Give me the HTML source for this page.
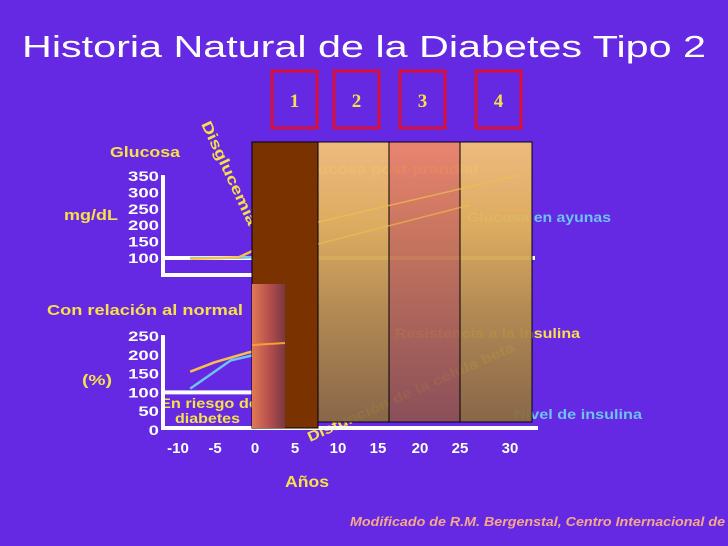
<!DOCTYPE html>
<html><head><meta charset="utf-8"><style>
html,body{margin:0;padding:0;background:#6529e4;}
svg{display:block;font-family:"Liberation Sans",sans-serif;}
</style></head><body>
<svg id="chart" width="728" height="546" viewBox="0 0 728 546">
<defs>
<linearGradient id="g2" x1="0" y1="0" x2="0" y2="1"><stop offset="0" stop-color="#f6c27a"/><stop offset="0.3" stop-color="#e3b45a"/><stop offset="0.6" stop-color="#b8904e"/><stop offset="1" stop-color="#8a6a42"/></linearGradient>
<linearGradient id="g3" x1="0" y1="0" x2="0" y2="1"><stop offset="0" stop-color="#f08a6a"/><stop offset="0.4" stop-color="#c67656"/><stop offset="1" stop-color="#8c5252"/></linearGradient>
<linearGradient id="gs" x1="0" y1="0" x2="1" y2="0"><stop offset="0" stop-color="#e07a50"/><stop offset="0.5" stop-color="#b85050"/><stop offset="1" stop-color="#7a3840"/></linearGradient>
</defs>
<rect width="728" height="546" fill="#6529e4"/>
<text x="22" y="57" fill="#fff" font-size="31" textLength="684" lengthAdjust="spacingAndGlyphs">Historia Natural de la Diabetes Tipo 2</text>

<g id="stageBoxes"></g>

<text x="110" y="157" fill="#f7e04a" font-size="15" font-weight="bold" textLength="70" lengthAdjust="spacingAndGlyphs">Glucosa</text>
<text x="64" y="220" fill="#f7e04a" font-size="15" font-weight="bold" textLength="54" lengthAdjust="spacingAndGlyphs">mg/dL</text>
<text x="0" y="0" fill="#f7e04a" font-size="15" font-weight="bold" textLength="113" lengthAdjust="spacingAndGlyphs" transform="translate(201,124) rotate(65)">Disglucemia</text>
<text x="47" y="315" fill="#f7e04a" font-size="15" font-weight="bold" textLength="196" lengthAdjust="spacingAndGlyphs">Con relación al normal</text>
<text x="82" y="385" fill="#f7e04a" font-size="15" font-weight="bold" textLength="30" lengthAdjust="spacingAndGlyphs">(%)</text>
<text x="160" y="408" fill="#f7e04a" font-size="14" font-weight="bold" textLength="98" lengthAdjust="spacingAndGlyphs">En riesgo de</text>
<text x="175" y="423" fill="#f7e04a" font-size="14" font-weight="bold" textLength="65" lengthAdjust="spacingAndGlyphs">diabetes</text>
<text x="467" y="222" fill="#6cc3f5" font-size="14" font-weight="bold" textLength="144" lengthAdjust="spacingAndGlyphs">Glucosa en ayunas</text>
<text x="395" y="338" fill="#f7e04a" font-size="14" font-weight="bold" textLength="185" lengthAdjust="spacingAndGlyphs">Resistencia a la insulina</text>
<text x="514" y="419" fill="#6cc3f5" font-size="14" font-weight="bold" textLength="128" lengthAdjust="spacingAndGlyphs">Nivel de insulina</text>
<text x="300" y="174" fill="#e8b84a" font-size="14" font-weight="bold" textLength="178" lengthAdjust="spacingAndGlyphs">Glucosa post-prandial</text>
<text x="0" y="0" fill="#f7e04a" font-size="14" font-weight="bold" textLength="225" lengthAdjust="spacingAndGlyphs" transform="translate(310,442) rotate(-24)">Disfunción de la célula beta</text>

<g id="axes"></g>
<g id="series"></g>

<g id="panels"></g>

<text x="285" y="487" fill="#f7e04a" font-size="16" font-weight="bold" textLength="44" lengthAdjust="spacingAndGlyphs">Años</text>
<text x="350" y="526" fill="#f5a88a" font-size="13" font-weight="bold" font-style="italic" textLength="375" lengthAdjust="spacingAndGlyphs">Modificado de R.M. Bergenstal, Centro Internacional de</text>
</svg>
<script>
const xTicks = [-10,-5,0,5,10,15,20,25,30];
const xTickPos = [178,215,255,295,338,378,420,460,510];
const glucoseTicks = [100,150,200,250,300,350];
const relTicks = [0,50,100,150,200,250];
const stageLabels = ['1','2','3','4'];
const fastingYears = [-8,-5,-2,0,2];
const fastingValues = [100,100,101,103,105];
const postYears = [-8,-5,-2,0,1];
const postValues = [98,99,102,125,140];
const resistYears = [-8,-5,-1,2,5];
const resistValues = [155,180,205,220,220];
const insulinYears = [-8,-6,-3,0,3];
const insulinValues = [110,140,185,200,195];

const NS='http://www.w3.org/2000/svg';
function mk(tag,attrs,parent){const e=document.createElementNS(NS,tag);for(const k in attrs)e.setAttribute(k,attrs[k]);parent.appendChild(e);return e;}
function xS(yr){return 255+yr*8.1;}
function gY(v){return 258-(v-100)*(82/250);}
function rY(v){return 430-v*(94/250);}

const axes=document.getElementById('axes');
const series=document.getElementById('series');
const panels=document.getElementById('panels');
const boxes=document.getElementById('stageBoxes');

let l;
l=mk('path',{d:'M163,175 V275 H290',stroke:'#fff','stroke-width':4,fill:'none'},axes);


l=mk('line',{x1:163,y1:gY(100),x2:535,y2:gY(100),stroke:'#fff','stroke-width':4},axes);


l=mk('path',{d:'M163,335 V428 H538',stroke:'#fff','stroke-width':4,fill:'none'},axes);


l=mk('line',{x1:163,y1:rY(100),x2:290,y2:rY(100),stroke:'#fff','stroke-width':4},axes);



glucoseTicks.forEach(v=>{const t=mk('text',{x:128,y:gY(v)+5,fill:'#fff','font-size':14,'font-weight':'bold',textLength:31,lengthAdjust:'spacingAndGlyphs'},axes);t.textContent=v;

});
relTicks.forEach(v=>{const s=String(v);const t=mk('text',{x:159,y:rY(v)+5,fill:'#fff','font-size':14,'font-weight':'bold','text-anchor':'end',textLength:s.length*10.3,lengthAdjust:'spacingAndGlyphs'},axes);t.textContent=s;

});
xTicks.forEach((v,i)=>{const t=mk('text',{x:xTickPos[i],y:453,fill:'#fff','font-size':15,'font-weight':'bold','text-anchor':'middle'},axes);t.textContent=v;

});

function line(xs,ys,yf,color,name){
  const d=xs.map((x,i)=>(i?'L':'M')+xS(x).toFixed(1)+','+yf(ys[i]).toFixed(1)).join(' ');
  const p=mk('path',{d:d,stroke:color,'stroke-width':2.5,fill:'none','stroke-linejoin':'round'},series);
  
  
}
line(fastingYears,fastingValues,gY,'#6cc3f5','fasting-glucose-line');
line(postYears,postValues,gY,'#f7c04a','postprandial-glucose-line');
line(resistYears,resistValues,rY,'#f7c04a','insulin-resistance-line');
line(insulinYears,insulinValues,rY,'#6cc3f5','insulin-level-line');

let r;
r=mk('rect',{x:318,y:142,width:71,height:280,fill:'url(#g2)',stroke:'#000','stroke-width':1,opacity:0.95},panels);


r=mk('rect',{x:389,y:142,width:71,height:280,fill:'url(#g3)',stroke:'#000','stroke-width':1,opacity:0.95},panels);


r=mk('rect',{x:460,y:142,width:72,height:280,fill:'url(#g2)',stroke:'#000','stroke-width':1,opacity:0.95},panels);


r=mk('rect',{x:252,y:142,width:66,height:286,fill:'#7a3300',stroke:'#000','stroke-width':1},panels);


r=mk('rect',{x:252,y:284,width:33,height:144,fill:'url(#gs)'},panels);


l=mk('line',{x1:318,y1:222,x2:520,y2:175,stroke:'#f0c050','stroke-width':1.5,opacity:0.7},panels);


l=mk('line',{x1:318,y1:244,x2:470,y2:205,stroke:'#f0c050','stroke-width':1.5,opacity:0.6},panels);


l=mk('line',{x1:252,y1:345,x2:285,y2:343,stroke:'#f7a030','stroke-width':2},panels);



const bx=[272,334,400,476];
stageLabels.forEach((s,i)=>{
  const b=mk('rect',{x:bx[i],y:71,width:45,height:57,fill:'none',stroke:'#d8103a','stroke-width':3},boxes);
  
  
  const t=mk('text',{x:bx[i]+22.5,y:107,fill:'#f7e04a','font-size':19,'font-weight':'bold','font-family':'Liberation Serif, serif','text-anchor':'middle'},boxes);
  t.textContent=s;
  
  
});
</script>
</body></html>
